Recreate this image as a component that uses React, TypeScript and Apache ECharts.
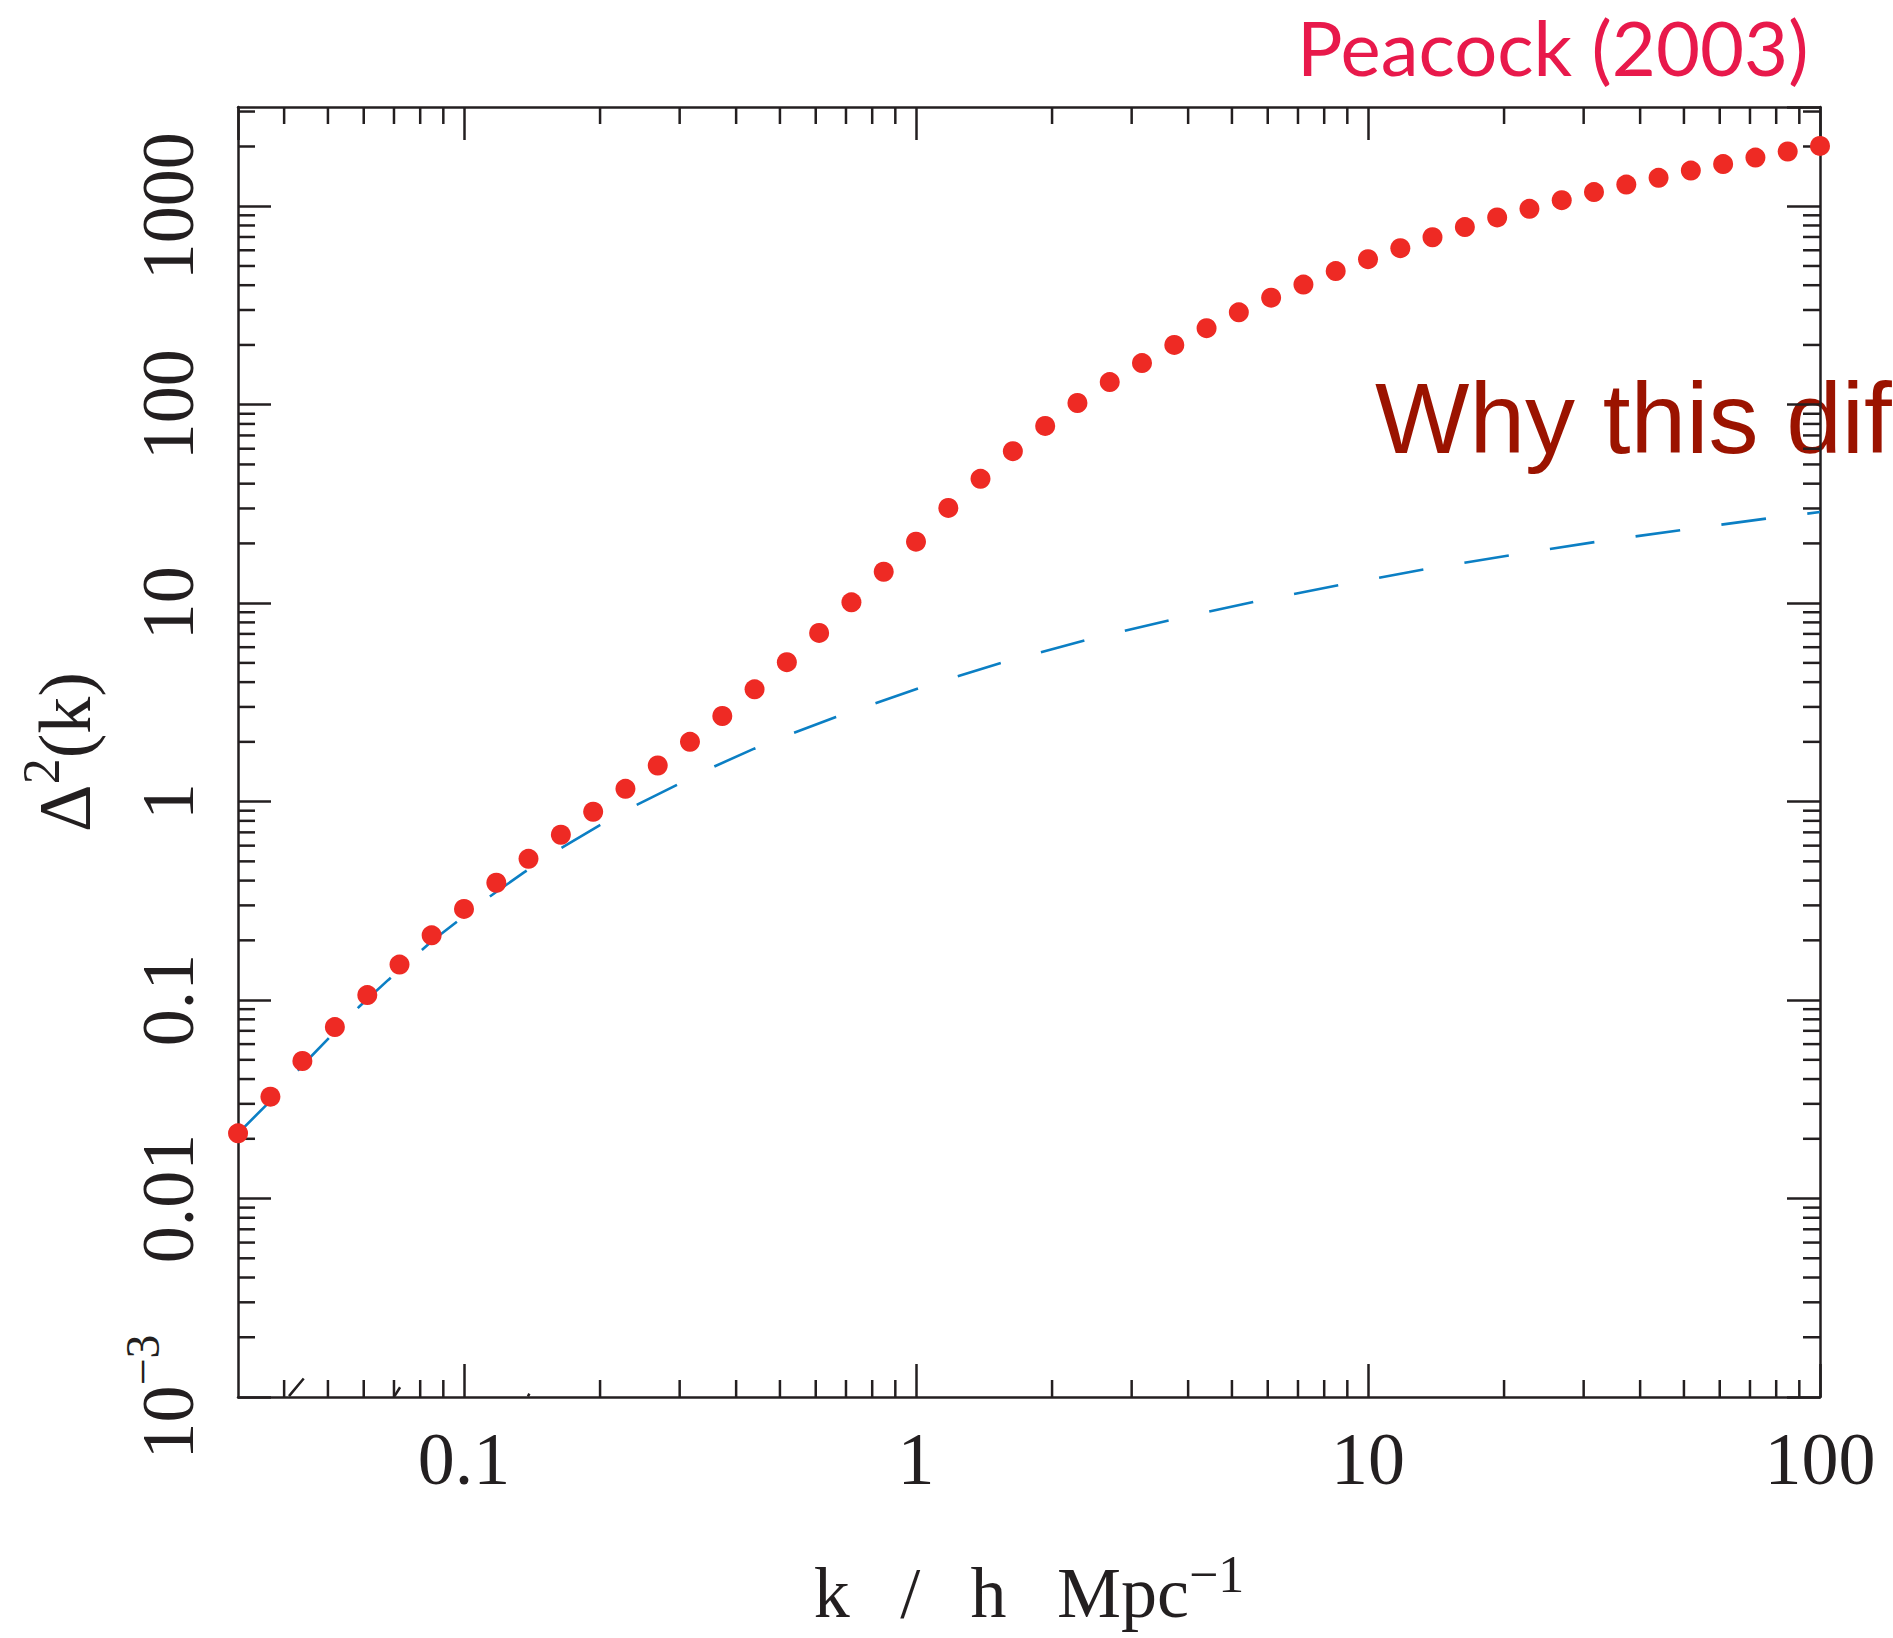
import React, { useEffect, useRef } from 'react';
import * as echarts from 'echarts';

// Red points: non-linear power spectrum (Peacock 2003)
const dotK = [0.03163, 0.0373, 0.0439, 0.0518, 0.0611, 0.072, 0.0848, 0.1, 0.1179, 0.1389, 0.1638, 0.1931, 0.2276, 0.2683, 0.3162, 0.3728, 0.4394, 0.5179, 0.6105, 0.7197, 0.8483, 1, 1.179, 1.389, 1.638, 1.931, 2.276, 2.683, 3.162, 3.728, 4.394, 5.179, 6.105, 7.197, 8.483, 10, 11.79, 13.89, 16.38, 19.31, 22.76, 26.83, 31.62, 37.28, 43.94, 51.79, 61.05, 71.97, 84.83, 100];
const dotDelta = [0.0213, 0.0326, 0.0493, 0.0731, 0.106, 0.151, 0.212, 0.288, 0.39, 0.515, 0.681, 0.889, 1.16, 1.52, 2.0, 2.7, 3.68, 5.04, 7.08, 10.1, 14.4, 20.4, 30.2, 42.3, 58.3, 78.2, 102, 130, 162, 200, 243, 292, 346, 403, 471, 541, 615, 698, 785, 878, 970, 1073, 1178, 1286, 1390, 1513, 1630, 1759, 1887, 2014];

// Blue dashed curve: linear power spectrum
const linK = [0.03163, 0.0367, 0.0447, 0.0586, 0.0679, 0.0851, 0.1135, 0.1355, 0.1637, 0.1986, 0.2399, 0.2944, 0.36, 0.4385, 0.537, 0.665, 1.012, 1.545, 2.366, 3.648, 5.623, 8.69, 13.43, 20.84, 32.21, 50.0, 76.0, 100];
const linDelta = [0.0213, 0.0299, 0.0489, 0.0925, 0.126, 0.199, 0.33, 0.439, 0.582, 0.755, 0.957, 1.208, 1.512, 1.848, 2.22, 2.667, 3.72, 5.0, 6.5, 8.22, 10.19, 12.36, 14.86, 17.5, 20.42, 23.44, 26.67, 28.77];

// small black fragments poking above the bottom axis
const markK = [0.041, 0.0442, 0.06, 0.0702, 0.0722, 0.1, 0.1385, 0.1395];
const markDelta: (number | string)[] = [0.00101, 0.00124, '-', 0.00101, 0.00112, '-', 0.001005, 0.00104];

const xTickValues = [0.1, 1, 10, 100];
const xTickLabels = ['0.1', '1', '10', '100'];
const yTickValues = [0.001, 0.01, 0.1, 1, 10, 100, 1000];
const yTickLabels = ['10^−3', '0.01', '0.1', '1', '10', '100', '1000'];

const xMinorTicks = [0.04, 0.05, 0.06, 0.07, 0.08, 0.09, 0.2, 0.3, 0.4, 0.5, 0.6, 0.7, 0.8, 0.9, 2, 3, 4, 5, 6, 7, 8, 9, 20, 30, 40, 50, 60, 70, 80, 90];
const yMinorTicks = [0.002, 0.003, 0.004, 0.005, 0.006, 0.007, 0.008, 0.009, 0.02, 0.03, 0.04, 0.05, 0.06, 0.07, 0.08, 0.09, 0.2, 0.3, 0.4, 0.5, 0.6, 0.7, 0.8, 0.9, 2, 3, 4, 5, 6, 7, 8, 9, 20, 30, 40, 50, 60, 70, 80, 90, 200, 300, 400, 500, 600, 700, 800, 900, 2000, 3000];

const xTitle = 'k / h Mpc';
const xTitleSup = '−1';
const yTitleBase = 'Δ';
const yTitleSup = '2';
const yTitleRest = '(k)';
const creditText = 'Peacock (2003)';
const questionText = 'Why this dif';

export default function App() {
  const ref = useRef<HTMLDivElement>(null);

  useEffect(() => {
    if (!ref.current) return;
    const chart = echarts.init(ref.current, null, { renderer: 'svg' });
    const ink = '#231f20';
    const serif = '"Liberation Serif", "Times New Roman", serif';
    const xMin = 0.0316227766;
    const xMax = 100;
    const yMin = 0.001;
    const yMax = 3162.2776602;

    const fmtX = (v: number) => {
      const e = Math.log10(v);
      const i = xTickValues.findIndex((t) => Math.abs(Math.log10(t) - e) < 0.01);
      return i < 0 ? '' : xTickLabels[i];
    };
    const fmtY = (v: number) => {
      const e = Math.log10(v);
      const i = yTickValues.findIndex((t) => Math.abs(Math.log10(t) - e) < 0.01);
      if (i < 0) return '';
      const lab = yTickLabels[i];
      if (lab.indexOf('^') >= 0) {
        const [b, s] = lab.split('^');
        return `{m|${b}}{s|${s}}`;
      }
      return `{m|${lab}}`;
    };

    const gap = '\u00a0\u00a0\u2009';
    const xName = `{m|${xTitle.split(' ').join(gap)}}{s|${xTitleSup}}`;
    const yName = `{m|${yTitleBase}}{s|${yTitleSup}}{m|${yTitleRest}}`;

    const tickStyle = { color: ink, width: 2.5 };
    const lineAxis = { show: true, onZero: false, lineStyle: { color: ink, width: 2.5 } };

    const option: any = {
      animation: false,
      backgroundColor: '#ffffff',
      grid: {
        left: 238,
        top: 107,
        width: 1582,
        height: 1290,
        containLabel: false,
        outerBoundsMode: 'none',
        show: false,
      },
      xAxis: [
        {
          type: 'log',
          logBase: 10,
          min: xMin,
          max: xMax,
          position: 'bottom',
          axisLine: lineAxis,
          axisTick: { show: true, inside: true, length: 33, lineStyle: tickStyle },
          minorTick: { show: false },
          splitLine: { show: false },
          axisLabel: {
            show: true,
            margin: 25,
            formatter: fmtX,
            color: ink,
            fontFamily: serif,
            fontSize: 74,
            showMinLabel: false,
            showMaxLabel: true,
          },
          name: xName,
          nameLocation: 'middle',
          nameGap: 151,
          nameMoveOverlap: false,
          nameTextStyle: {
            color: ink,
            fontFamily: serif,
            rich: {
              m: { fontSize: 72, lineHeight: 90, fontFamily: serif, color: ink },
              s: { fontSize: 52, lineHeight: 41, verticalAlign: 'top', fontFamily: serif, color: ink },
            },
          },
        },
        {
          type: 'log',
          logBase: 10,
          min: xMin,
          max: xMax,
          position: 'top',
          axisLine: lineAxis,
          axisTick: { show: true, inside: true, length: 33, lineStyle: tickStyle },
          splitLine: { show: false },
          axisLabel: { show: false },
        },
      ],
      yAxis: [
        {
          type: 'log',
          logBase: 10,
          min: yMin,
          max: yMax,
          position: 'left',
          axisLine: lineAxis,
          axisTick: { show: true, inside: true, length: 33, lineStyle: tickStyle },
          minorTick: { show: false },
          splitLine: { show: false },
          axisLabel: {
            show: true,
            rotate: 90,
            margin: 20,
            formatter: fmtY,
            color: ink,
            showMinLabel: true,
            showMaxLabel: false,
            rich: {
              m: { fontSize: 74, lineHeight: 100, fontFamily: serif, color: ink },
              s: { fontSize: 48, lineHeight: 45, verticalAlign: 'top', fontFamily: serif, color: ink },
            },
          },
          name: yName,
          nameLocation: 'middle',
          nameGap: 123,
          nameMoveOverlap: false,
          nameTextStyle: {
            color: ink,
            fontFamily: serif,
            rich: {
              m: { fontSize: 74, lineHeight: 100, fontFamily: serif, color: ink },
              s: { fontSize: 52, lineHeight: 44, verticalAlign: 'top', fontFamily: serif, color: ink },
            },
          },
        },
        {
          type: 'log',
          logBase: 10,
          min: yMin,
          max: yMax,
          position: 'right',
          axisLine: lineAxis,
          axisTick: { show: true, inside: true, length: 33, lineStyle: tickStyle },
          splitLine: { show: false },
          axisLabel: { show: false },
        },
      ],
      graphic: [
        {
          type: 'text',
          z: -1,
          x: 1297,
          y: 46,
          style: {
            text: creditText,
            fill: '#e8194b',
            fontFamily: 'Lato, "Open Sans", sans-serif',
            fontSize: 76,
            align: 'left',
            verticalAlign: 'middle',
          },
        },
        {
          type: 'text',
          z: -1,
          x: 1375,
          y: 418,
          style: {
            text: questionText,
            fill: '#9b1300',
            fontFamily: '"Liberation Sans", Arial, sans-serif',
            fontSize: 100,
            align: 'left',
            verticalAlign: 'middle',
          },
        },
      ],
      series: [
        {
          type: 'custom',
          name: 'xMinor',
          xAxisIndex: 0,
          yAxisIndex: 0,
          silent: true,
          z: 1,
          data: xMinorTicks.map((v) => [v, 1]),
          renderItem: (params: any, api: any) => {
            const cs = params.coordSys;
            const px = api.coord([api.value(0), 1])[0];
            const bottom = cs.y + cs.height;
            const top = cs.y;
            return {
              type: 'group',
              children: [
                { type: 'line', shape: { x1: px, y1: bottom, x2: px, y2: bottom - 17 }, style: { stroke: ink, lineWidth: 2.5 } },
                { type: 'line', shape: { x1: px, y1: top, x2: px, y2: top + 17 }, style: { stroke: ink, lineWidth: 2.5 } },
              ],
            };
          },
        },
        {
          type: 'custom',
          name: 'yMinor',
          xAxisIndex: 0,
          yAxisIndex: 0,
          silent: true,
          z: 1,
          data: yMinorTicks.map((v) => [1, v]),
          renderItem: (params: any, api: any) => {
            const cs = params.coordSys;
            const py = api.coord([1, api.value(1)])[1];
            const left = cs.x;
            const right = cs.x + cs.width;
            return {
              type: 'group',
              children: [
                { type: 'line', shape: { x1: left, y1: py, x2: left + 17, y2: py }, style: { stroke: ink, lineWidth: 2.5 } },
                { type: 'line', shape: { x1: right, y1: py, x2: right - 17, y2: py }, style: { stroke: ink, lineWidth: 2.5 } },
              ],
            };
          },
        },
        {
          type: 'line',
          name: 'linear',
          xAxisIndex: 0,
          yAxisIndex: 0,
          z: 2,
          symbol: 'none',
          showSymbol: false,
          smooth: false,
          clip: false,
          data: linK.map((k, i) => [k, linDelta[i]]),
          lineStyle: { color: '#0b7fc4', width: 2.6, type: [45, 41.6], dashOffset: 0 },
        },
        {
          type: 'line',
          name: 'marks',
          xAxisIndex: 0,
          yAxisIndex: 0,
          z: 2,
          symbol: 'none',
          showSymbol: false,
          connectNulls: false,
          data: markK.map((k, i) => [k, markDelta[i]]),
          lineStyle: { color: ink, width: 2.5 },
        },
        {
          type: 'scatter',
          name: 'nonlinear',
          xAxisIndex: 0,
          yAxisIndex: 0,
          z: 3,
          clip: false,
          symbol: 'circle',
          symbolSize: 20,
          data: dotK.map((k, i) => [k, dotDelta[i]]),
          itemStyle: { color: '#ee2a24', opacity: 1 },
        },
      ],
    };

    chart.setOption(option);
    return () => {
      chart.dispose();
    };
  }, []);

  return (
    <div
      ref={ref}
      style={{ position: 'absolute', left: 0, top: 0, width: 1893, height: 1638, overflow: 'hidden', background: '#ffffff' }}
    />
  );
}
